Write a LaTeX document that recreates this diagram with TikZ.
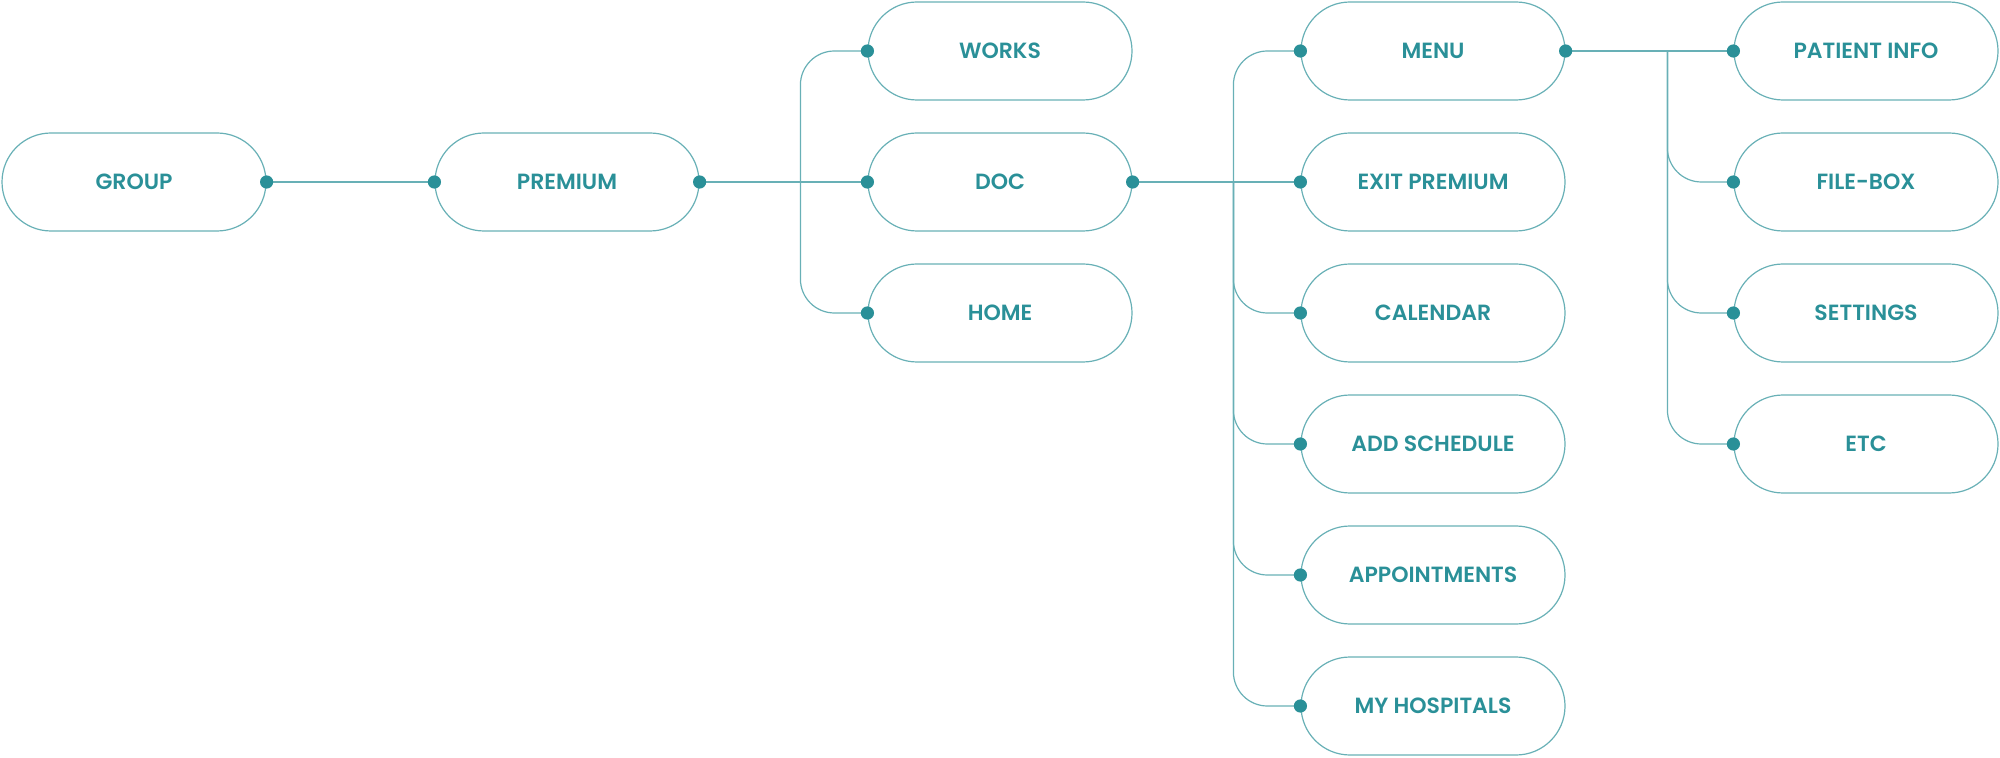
\documentclass[tikz,border=0pt]{standalone}
\usepackage{fontspec}
\setsansfont{Poppins}[BoldFont={Poppins SemiBold}]
\usetikzlibrary{calc}
\definecolor{tealtext}{RGB}{42,144,152}
\definecolor{tealline}{RGB}{104,176,182}

\begin{document}
\begin{tikzpicture}[x=0.5pt,y=-0.5pt,
  box/.style={draw=tealline, line width=0.6pt, rounded corners=24.5pt, minimum width=132pt, minimum height=49pt, inner sep=0pt, text=tealtext, font=\sffamily\bfseries\fontsize{11}{13}\selectfont},
  wire/.style={draw=tealline, line width=0.6pt},
  elbow/.style={wire, rounded corners=17pt}]
\useasboundingbox (0,0) rectangle (2000,758);

\node[box] (group) at (134,182) {GROUP};
\node[box] (premium) at (567,182) {PREMIUM};
\node[box] (works) at (1000,51) {WORKS};
\node[box] (doc) at (1000,182) {DOC};
\node[box] (home) at (1000,313) {HOME};
\node[box] (menu) at (1433,51) {MENU};
\node[box] (exit) at (1433,182) {EXIT PREMIUM};
\node[box] (calendar) at (1433,313) {CALENDAR};
\node[box] (addsched) at (1433,444) {ADD SCHEDULE};
\node[box] (appoint) at (1433,575) {APPOINTMENTS};
\node[box] (hospitals) at (1433,706) {MY HOSPITALS};
\node[box] (patient) at (1866,51) {PATIENT INFO};
\node[box] (filebox) at (1866,182) {FILE-BOX};
\node[box] (settings) at (1866,313) {SETTINGS};
\node[box] (etc) at (1866,444) {ETC};

\coordinate (trunkA) at ($(doc.west)+(-67,0)$);
\coordinate (trunkB) at ($(exit.west)+(-67,0)$);
\coordinate (trunkC) at ($(patient.west)+(-66,0)$);

\draw[wire] (group.east) -- (premium.west);
\draw[wire] (premium.east) -- (doc.west);
\draw[elbow] (works.west) -| (trunkA) |- (home.west);

\draw[wire] (doc.east) -- (exit.west);
\draw[elbow] (menu.west) -| (trunkB) |- (hospitals.west);
\draw[elbow] (trunkB) |- (calendar.west);
\draw[elbow] (trunkB) |- (addsched.west);
\draw[elbow] (trunkB) |- (appoint.west);

\draw[wire] (menu.east) -- (patient.west);
\draw[elbow] (trunkC) |- (filebox.west);
\draw[elbow] (trunkC) |- (settings.west);
\draw[elbow] (trunkC) |- (etc.west);

\foreach \p in {group.east, premium.west, premium.east, works.west, doc.west, doc.east, home.west,
  menu.west, menu.east, exit.west, calendar.west, addsched.west, appoint.west, hospitals.west,
  patient.west, filebox.west, settings.west, etc.west}
  \fill[tealtext] (\p) circle (3.3pt);
\end{tikzpicture}
\end{document}
